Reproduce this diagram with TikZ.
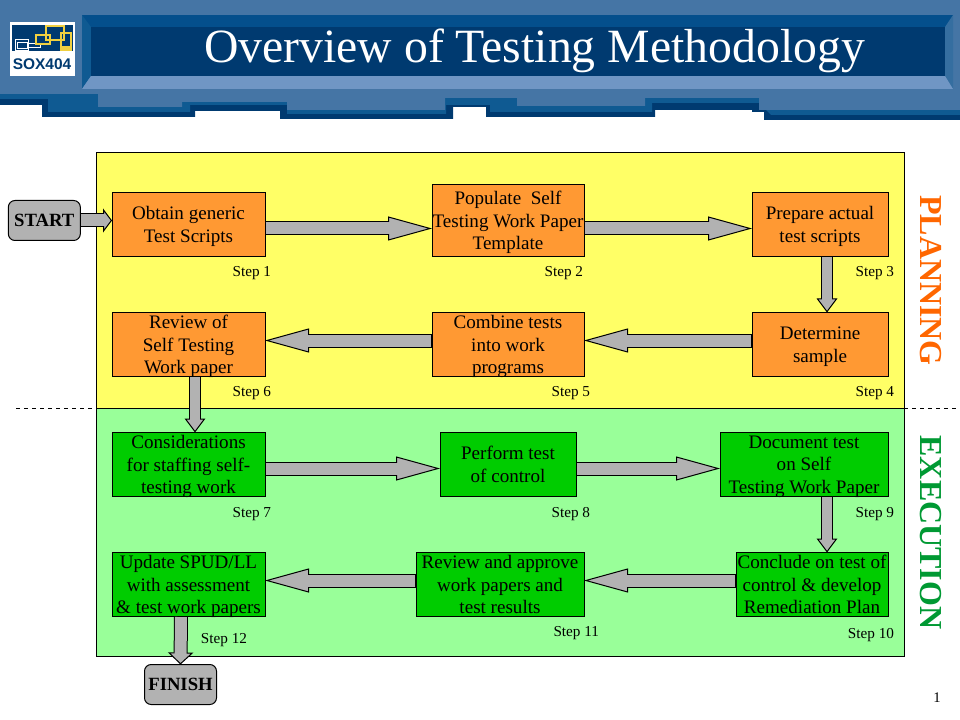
\documentclass[tikz,border=0pt]{standalone}
\usepackage{fontspec}
\setmainfont{Liberation Serif}
\newfontfamily\logofont{Liberation Sans}
\usetikzlibrary{arrows.meta}
\usetikzlibrary{positioning}
\definecolor{barlight}{HTML}{4575A5}
\definecolor{barmid}{HTML}{0F5A92}
\definecolor{bardark}{HTML}{003A70}
\definecolor{bevellight}{HTML}{7096C4}
\definecolor{bevelright}{HTML}{356EA0}
\definecolor{topbevel}{HTML}{044F8C}
\definecolor{planyellow}{HTML}{FFFF66}
\definecolor{execgreen}{HTML}{99FF99}
\definecolor{boxorange}{HTML}{FF9933}
\definecolor{boxgreen}{HTML}{00CC00}
\definecolor{flowgray}{HTML}{B2B2B2}
\definecolor{logoyellow}{HTML}{F0D040}
\definecolor{plantext}{HTML}{FF6600}
\definecolor{exectext}{HTML}{009933}
\tikzset{blockarrow/.style args={#1/#2/#3}{draw=black, line width=#1+1.5pt, -{Triangle[length=#2, width=#3, color=black, fill=flowgray, line width=0.75pt]}, postaction={draw=flowgray, arrows=-, line width=#1, shorten >=#2-1.5pt, shorten <=0.4pt}}}
\tikzstyle{panel} = [rectangle, minimum width=606pt, draw=black, line width=0.75pt, inner sep=0pt, outer sep=0pt]
\tikzstyle{stepbox} = [rectangle, minimum height=48pt, align=center, text depth=0pt, draw=black, line width=0.75pt, inner sep=0pt, outer sep=0pt, font=\fontsize{14.3}{17}\selectfont]
\tikzstyle{planbox} = [stepbox, fill=boxorange]
\tikzstyle{execbox} = [stepbox, fill=boxgreen]
\tikzstyle{endbox} = [rectangle, rounded corners=5pt, minimum width=54pt, minimum height=30pt, draw=black, line width=0.75pt, fill=flowgray, inner sep=0pt, outer sep=0pt, font=\fontsize{14}{16}\selectfont\bfseries]
\tikzstyle{steplabel} = [inner sep=0pt, outer sep=0pt, font=\fontsize{11.4}{13}\selectfont]
\tikzstyle{phaselabel} = [rotate=-90, inner sep=0pt, font=\fontsize{24}{26}\selectfont\bfseries]
\tikzstyle{longarrow} = [blockarrow=9pt/33pt/18pt]
\tikzstyle{downarrow} = [blockarrow=7.5pt/10.5pt/15.5pt]
\tikzstyle{startarrow} = [blockarrow=9pt/6.75pt/18pt]
\tikzstyle{finisharrow} = [blockarrow=9pt/9pt/19pt]
\begin{document}
\begin{tikzpicture}[x=0.75pt, y=-0.75pt]
\useasboundingbox (0,0) rectangle (960,720);

\fill [bardark] (0,94) -- (0,105) -- (42,105) -- (42,117) -- (195,117) -- (195,111) -- (280,111) -- (280,119) -- (453,119) -- (453,107) -- (486,107) -- (486,117) -- (655,117) -- (655,110) -- (752,110) -- (752,112) -- (764,112) -- (764,120) -- (960,120) -- (960,94) -- cycle;
\fill [barmid] (0,90) -- (0,99) -- (48,99) -- (48,112) -- (190,112) -- (190,105) -- (287,105) -- (287,114) -- (446,114) -- (446,105) -- (490,105) -- (490,112) -- (652,112) -- (652,103) -- (759,103) -- (771,115) -- (960,115) -- (960,90) -- cycle;
\fill [barlight] (0,0) -- (0,94) -- (98,94) -- (98,107) -- (182,107) -- (182,102) -- (287,102) -- (287,110) -- (445,110) -- (445,98) -- (517,98) -- (517,106) -- (645,106) -- (645,98) -- (759,98) -- (759,110) -- (960,110) -- (960,0) -- cycle;
\fill [topbevel] (82,15) rectangle (953,27);
\fill [barmid] (82,15) -- (91,27) -- (91,76) -- (82,89) -- cycle;
\fill [bevelright] (953,15) -- (945,27) -- (945,76) -- (953,89) -- cycle;
\fill [bevellight] (82,89) -- (91,76) -- (945,76) -- (953,89) -- cycle;
\fill [bardark] (91,27) rectangle (945,76);

\fill [white] (10,22) rectangle (75,76);
\fill [bardark] (12,25) rectangle (73,51);
\draw [white, line width=0.6pt] (15,39) rectangle (28,50) (17,42) rectangle (27,48) (28,43) rectangle (40,47);
\draw [logoyellow, line width=0.9pt] (36,35) rectangle (50,44) (46,26) rectangle (64,40);
\draw [logoyellow, line width=1.8pt] (61,33) rectangle (71,50);
\fill [logoyellow] (60,46) rectangle (72,51);
\node (logotext) at (42,64.5) [inner sep=0pt, text=bardark, font=\logofont\fontsize{11.6}{14}\selectfont\bfseries] {SOX404};
\node (title) at (534.5,51) [inner sep=0pt, text=white, font=\fontsize{35.8}{40}\selectfont] {Overview of Testing Methodology};

\draw [dashed, line width=0.6pt] (16,408) -- (960,408);
\node (plan) at (500,280.5) [panel, minimum height=192pt, fill=planyellow] {};
\node (exec) [panel, minimum height=186pt, fill=execgreen, below=0pt of plan] {};
\node (planning) at ([xshift=20.25pt]plan.east) [phaselabel, text=plantext] {PLANNING};
\node (execution) at ([xshift=20.25pt]exec.east) [phaselabel, text=exectext] {EXECUTION};

\node (step1) at (188.5,224.5) [planbox, minimum width=114.75pt] {Obtain generic\\Test Scripts};
\node (step2) [planbox, minimum width=114pt, minimum height=54pt, right=125.25pt of step1.south east, anchor=south west] {Populate~ Self\\Testing Work Paper\\Template};
\node (step3) [planbox, minimum width=102pt, right=126pt of step2.south east, anchor=south west] {Prepare actual\\test scripts};
\node (step4) [planbox, minimum width=102pt, below=42pt of step3] {Determine\\sample};
\node (step5) [planbox, minimum width=114pt, left=126pt of step4] {Combine tests\\into work\\programs};
\node (step6) [planbox, minimum width=114.75pt, left=125.25pt of step5] {Review of\\Self Testing\\Work paper};
\node (step7) [execbox, minimum width=114.75pt, below=42pt of step6] {Considerations\\for staffing self-\\testing work};
\node (step8) [execbox, minimum width=102pt, right=131.25pt of step7] {Perform test\\of control};
\node (step9) [execbox, minimum width=126pt, right=108pt of step8] {Document test\\on Self\\Testing Work Paper};
\node (step10) [execbox, minimum width=114pt, below=42pt of step9.south east, anchor=north east] {Conclude on test of\\control \& develop\\Remediation Plan};
\node (step11) [execbox, minimum width=126pt, left=114pt of step10] {Review and approve\\work papers and\\test results};
\node (step12) [execbox, minimum width=114.75pt, left=113.25pt of step11] {Update SPUD/LL\\with assessment\\\& test work papers};
\node (start) [endbox, left=23.75pt of step1, yshift=3pt] {START};
\node (finish) [endbox, below=36pt of step12, xshift=-6pt] {FINISH};

\node (label1) [steplabel, below left=7.5pt and -4.5pt of step1.south east] {Step 1};
\node (label2) [steplabel, below left=7.5pt and 0.75pt of step2.south east] {Step 2};
\node (label3) [steplabel, below left=7.5pt and -4.5pt of step3.south east] {Step 3};
\node (label4) [steplabel, below left=7.5pt and -4.5pt of step4.south east] {Step 4};
\node (label5) [steplabel, below left=7.5pt and -4.5pt of step5.south east] {Step 5};
\node (label6) [steplabel, below left=7.5pt and -4.5pt of step6.south east] {Step 6};
\node (label7) [steplabel, below left=8pt and -4.5pt of step7.south east] {Step 7};
\node (label8) [steplabel, below left=8pt and -10.5pt of step8.south east] {Step 8};
\node (label9) [steplabel, below left=8pt and -4.5pt of step9.south east] {Step 9};
\node (label10) [steplabel, below left=9pt and -4.5pt of step10.south east] {Step 10};
\node (label11) [steplabel, below left=7.5pt and -11.25pt of step11.south east] {Step 11};
\node (label12) [steplabel, below left=13pt and 13.5pt of step12.south east] {Step 12};
\node (pagenum) at (937,698) [inner sep=0pt, font=\fontsize{11}{13}\selectfont] {1};

\draw [startarrow] (start.east) -- ([yshift=3pt]step1.west);
\draw [longarrow] ([yshift=-3pt]step1.east) -- ([yshift=-6pt]step2.west);
\draw [longarrow] ([yshift=-6pt]step2.east) -- ([yshift=-3pt]step3.west);
\draw [downarrow] ([xshift=5.25pt]step3.south) -- ([xshift=5.25pt]step4.north);
\draw [longarrow] ([yshift=3pt]step4.west) -- ([yshift=3pt]step5.east);
\draw [longarrow] ([yshift=3pt]step5.west) -- ([yshift=3pt]step6.east);
\draw [downarrow] ([xshift=4.875pt]step6.south) -- ([xshift=4.875pt]step7.north);
\draw [longarrow] ([yshift=-3pt]step7.east) -- ([yshift=-3pt]step8.west);
\draw [longarrow] ([yshift=-3pt]step8.east) -- ([yshift=-3pt]step9.west);
\draw [downarrow] ([xshift=17.25pt]step9.south) -- ([xshift=11.25pt]step10.north);
\draw [longarrow] ([yshift=3pt]step10.west) -- ([yshift=3pt]step11.east);
\draw [longarrow] ([yshift=3pt]step11.west) -- ([yshift=3pt]step12.east);
\draw [finisharrow] ([xshift=-5.625pt]step12.south) -- (finish.north);
\end{tikzpicture}
\end{document}
